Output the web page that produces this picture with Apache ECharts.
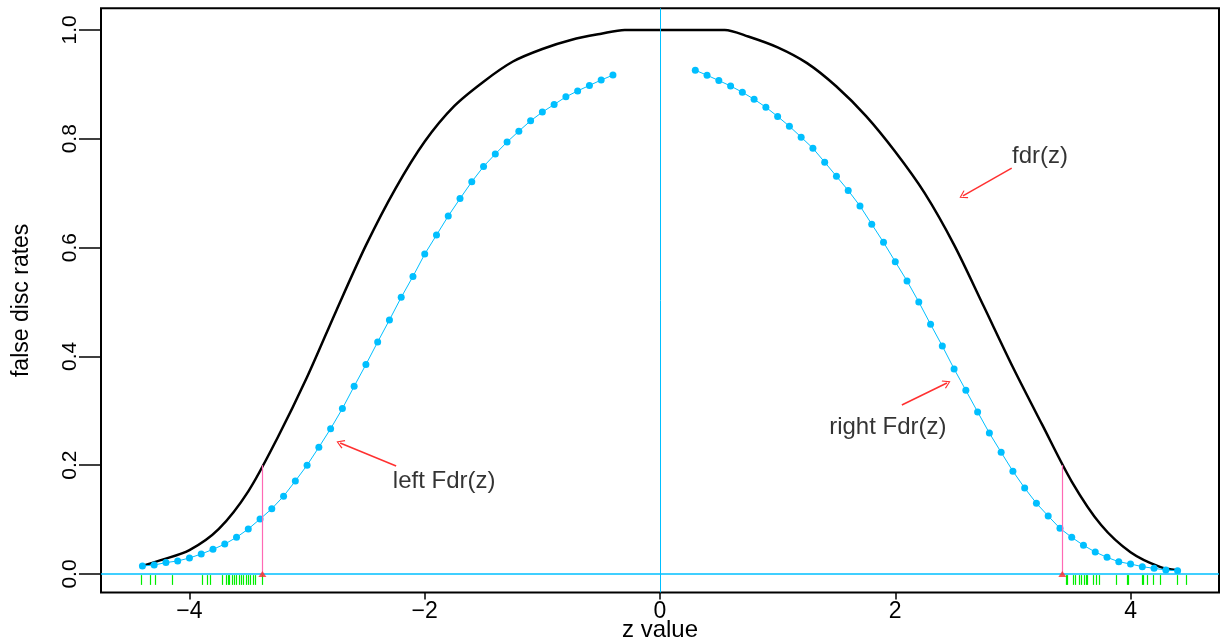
<!DOCTYPE html>
<html>
<head>
<meta charset="utf-8">
<title>false disc rates</title>
<script src="https://cdn.jsdelivr.net/npm/echarts@6/dist/echarts.min.js"></script>
<style>
  html, body { margin: 0; padding: 0; background: #ffffff; }
  #chart { width: 1225px; height: 643px; }
</style>
</head>
<body>
<div id="chart"></div>
<script>
// local false discovery rate fdr(z), solid black curve
const fdrZ = [-4.40, -4.25, -4.00, -3.75, -3.50, -3.25, -3.00, -2.75, -2.50, -2.25, -2.00, -1.75, -1.50, -1.25, -1.00, -0.75, -0.50, -0.30, 0.00, 0.30, 0.55, 0.75, 1.00, 1.25, 1.50, 1.75, 2.00, 2.25, 2.50, 2.75, 3.00, 3.25, 3.50, 3.75, 4.00, 4.25, 4.40];
const fdrV = [0.015, 0.025, 0.044, 0.083, 0.152, 0.251, 0.362, 0.485, 0.604, 0.708, 0.795, 0.860, 0.905, 0.942, 0.965, 0.982, 0.993, 1.000, 1.000, 1.000, 1.000, 0.988, 0.968, 0.939, 0.896, 0.842, 0.776, 0.700, 0.605, 0.493, 0.380, 0.274, 0.170, 0.090, 0.040, 0.013, 0.007];

// left tail-area Fdr(z)
const leftZ = [-4.4, -4.3, -4.2, -4.1, -4.0, -3.9, -3.8, -3.7, -3.6, -3.5, -3.4, -3.3, -3.2, -3.1, -3.0, -2.9, -2.8, -2.7, -2.6, -2.5, -2.4, -2.3, -2.2, -2.1, -2.0, -1.9, -1.8, -1.7, -1.6, -1.5, -1.4, -1.3, -1.2, -1.1, -1.0, -0.9, -0.8, -0.7, -0.6, -0.5, -0.4];
const leftFdr = [0.0147, 0.0165, 0.021, 0.024, 0.0294, 0.0368, 0.0453, 0.055, 0.0674, 0.0827, 0.101, 0.12, 0.143, 0.171, 0.2, 0.233, 0.267, 0.304, 0.345, 0.385, 0.4265, 0.467, 0.5085, 0.547, 0.588, 0.623, 0.658, 0.690, 0.721, 0.749, 0.772, 0.794, 0.814, 0.833, 0.849, 0.863, 0.877, 0.888, 0.898, 0.908, 0.917];

// right tail-area Fdr(z)
const rightZ = [0.3, 0.4, 0.5, 0.6, 0.7, 0.8, 0.9, 1.0, 1.1, 1.2, 1.3, 1.4, 1.5, 1.6, 1.7, 1.8, 1.9, 2.0, 2.1, 2.2, 2.3, 2.4, 2.5, 2.6, 2.7, 2.8, 2.9, 3.0, 3.1, 3.2, 3.3, 3.4, 3.5, 3.6, 3.7, 3.8, 3.9, 4.0, 4.1, 4.2, 4.3, 4.4];
const rightFdr = [0.926, 0.9167, 0.907, 0.897, 0.8855, 0.8726, 0.858, 0.841, 0.823, 0.803, 0.7825, 0.757, 0.731, 0.705, 0.6765, 0.643, 0.6097, 0.574, 0.5386, 0.5, 0.459, 0.419, 0.377, 0.3376, 0.298, 0.259, 0.2237, 0.189, 0.158, 0.13, 0.1066, 0.084, 0.0674, 0.0527, 0.0404, 0.0306, 0.0226, 0.0184, 0.0135, 0.0104, 0.0074, 0.006];

// observed z values beyond the fdr = 0.2 cut-offs (rug)
const rugZ = [-4.41, -4.33, -4.29, -4.15, -3.89, -3.85, -3.82, -3.72, -3.69, -3.67, -3.66, -3.64, -3.62, -3.60, -3.58, -3.56, -3.54, -3.52, -3.50, -3.48, -3.46, -3.44, -3.38,
              3.45, 3.46, 3.51, 3.53, 3.56, 3.58, 3.61, 3.62, 3.63, 3.68, 3.71, 3.73, 3.88, 3.97, 3.98, 4.10, 4.11, 4.14, 4.19, 4.25, 4.40, 4.47];

// cut-off points where fdr(z) = 0.2
const cutZ = [-3.38, 3.42];
const cutLevel = 0.2;

// curve annotations: label text, label position, arrow start, arrow end
const noteText = ['fdr(z)', 'left Fdr(z)', 'right Fdr(z)'];
const notePos = [[3.23, 0.768], [-1.835, 0.171], [1.937, 0.270]];
const arrowFrom = [[2.99, 0.746], [-2.243, 0.1985], [2.056, 0.3107]];
const arrowTo = [[2.575, 0.695], [-2.719, 0.2408], [2.439, 0.351]];

// axis ticks
const xTicks = [-4, -2, 0, 2, 4];
const yTicks = [0, 0.2, 0.4, 0.6, 0.8, 1.0];

const FONT = 'Liberation Sans, Arial, Helvetica, sans-serif';
const SKY = '#00bfff';
const CHEVRON = 'path://M5,0 L10,9 L9,10 L5,2.4 L1,10 L0,9 Z';

const zip = (a, b) => a.map((v, i) => [v, b[i]]);
const solid = (color, width) => ({ color, width, type: 'solid' });

// straight reference segments drawn in data coordinates
const refLines = [
  { xAxis: 0, lineStyle: solid(SKY, 1) },
  { yAxis: 0, lineStyle: solid(SKY, 1.5) }
];
cutZ.forEach(z => {
  refLines.push([
    { coord: [z, 0], lineStyle: solid('#ff69b4', 1.2) },
    { coord: [z, cutLevel] }
  ]);
});
rugZ.forEach(z => {
  refLines.push([
    { coord: [z, -0.002], lineStyle: solid('#00ee00', 1.2) },
    { coord: [z, -0.02] }
  ]);
});
arrowFrom.forEach((p, i) => {
  refLines.push([
    { coord: p, symbol: 'none', lineStyle: solid('#ff3030', 1.5) },
    { coord: arrowTo[i], symbol: CHEVRON, symbolSize: [9, 8] }
  ]);
});

const chart = echarts.init(document.getElementById('chart'), null, { renderer: 'canvas' });
chart.setOption({
  animation: false,
  backgroundColor: '#ffffff',
  textStyle: { fontFamily: FONT },
  grid: {
    left: 101, right: 6, top: 8.3, bottom: 50.6,
    show: true, borderColor: '#000000', borderWidth: 2, backgroundColor: 'transparent',
    containLabel: false,
    outerBoundsMode: 'none'
  },
  xAxis: {
    type: 'value',
    min: -4.752, max: 4.752,
    name: 'z value',
    nameLocation: 'middle',
    nameGap: 26,
    nameMoveOverlap: false,
    nameTextStyle: { fontFamily: FONT, fontSize: 24, color: '#000' },
    axisLine: { show: false, onZero: false },
    axisTick: { show: true, length: 7, customValues: xTicks, lineStyle: { color: '#000', width: 1.5 } },
    axisLabel: {
      customValues: xTicks, margin: 8, fontFamily: FONT, fontSize: 23, color: '#000',
      formatter: v => (v < 0 ? '\u2212' + Math.abs(v) : String(v))
    },
    splitLine: { show: false }
  },
  yAxis: {
    type: 'value',
    min: -0.0338, max: 1.0398,
    name: 'false disc rates',
    nameLocation: 'middle',
    nameGap: 68,
    nameRotate: 90,
    nameMoveOverlap: false,
    nameTextStyle: { fontFamily: FONT, fontSize: 23, color: '#000' },
    axisLine: { show: false, onZero: false },
    axisTick: { show: true, length: 22, customValues: yTicks, lineStyle: { color: '#000', width: 1.5 } },
    axisLabel: {
      customValues: yTicks, rotate: 90, margin: 20, fontFamily: FONT, fontSize: 21, color: '#000',
      formatter: v => v.toFixed(1)
    },
    splitLine: { show: false }
  },
  series: [
    {
      name: 'reference',
      type: 'line',
      data: [],
      silent: true,
      markLine: {
        silent: true,
        symbol: ['none', 'none'],
        label: { show: false },
        emphasis: { disabled: true },
        data: refLines
      },
      z: 1
    },
    {
      name: 'fdr',
      type: 'line',
      data: zip(fdrZ, fdrV),
      showSymbol: false,
      smooth: 0.3,
      lineStyle: { color: '#000000', width: 2.5 },
      itemStyle: { color: '#000000' },
      silent: true,
      z: 3
    },
    {
      name: 'left Fdr',
      type: 'line',
      data: zip(leftZ, leftFdr),
      symbol: 'circle',
      symbolSize: 7,
      lineStyle: { color: SKY, width: 1 },
      itemStyle: { color: SKY },
      silent: true,
      z: 4
    },
    {
      name: 'right Fdr',
      type: 'line',
      data: zip(rightZ, rightFdr),
      symbol: 'circle',
      symbolSize: 7,
      lineStyle: { color: SKY, width: 1 },
      itemStyle: { color: SKY },
      silent: true,
      z: 4
    },
    {
      name: 'cut-off heads',
      type: 'scatter',
      data: cutZ.map(z => [z, 0]),
      symbol: 'triangle',
      symbolSize: [8, 6],
      itemStyle: { color: '#ff2a2a' },
      silent: true,
      z: 5
    },
    {
      name: 'notes',
      type: 'scatter',
      data: notePos.map((p, i) => ({ name: noteText[i], value: p })),
      symbolSize: 1,
      itemStyle: { color: 'transparent' },
      label: {
        show: true, position: 'inside', formatter: '{b}',
        fontFamily: FONT, fontSize: 24, color: '#000'
      },
      silent: true,
      z: 6
    }
  ]
});
</script>
</body>
</html>
